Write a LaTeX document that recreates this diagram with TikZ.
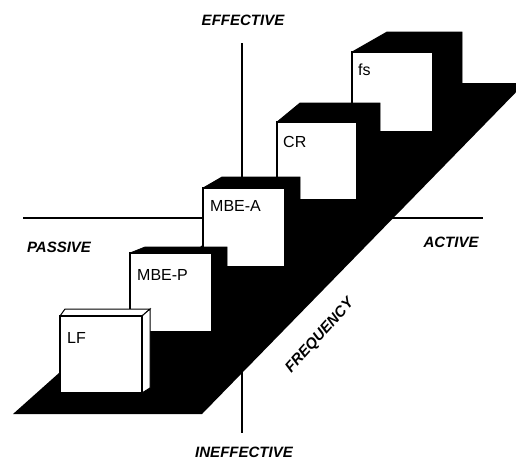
\documentclass[tikz,border=0pt]{standalone}
\usepackage{fontspec}
\setmainfont{Liberation Sans}
\begin{document}
\begin{tikzpicture}[x=1pt,y=-1pt,line join=miter,
  axisline/.style={line width=1.3pt},
  axlabel/.style={font=\fontsize{15}{15}\selectfont\bfseries\itshape,inner sep=0pt},
  boxlabel/.style={font=\fontsize{16}{16}\selectfont,anchor=base west,inner sep=0pt},
  frontface/.style={fill=white,draw=black,line width=1.4pt},
  depthface/.style={fill=black,draw=black,line width=0.8pt},
  thinface/.style={fill=white,draw=black,line width=1pt}]
\useasboundingbox (0,0) rectangle (516,464);
\clip (0,0) rectangle (516,464);
% axes
\coordinate (vtop) at (242,43);
\coordinate (vbot) at (242,433);
\coordinate (hleft) at (23,218);
\coordinate (hright) at (483,218);
\draw[axisline] (vtop) -- (vbot);
\draw[axisline] (hleft) -- (hright);
% floor
\fill[black] (13,414) -- (202,414) -- (525,83) -- (384,83) -- cycle;
% fs box
\fill[depthface] (352,52) -- (387,32) -- (462,32) -- (462,120) -- (433,132) -- cycle;
\draw[frontface] (352,52) rectangle (433,132);
% CR box
\fill[depthface] (277,122) -- (300,103) -- (380,103) -- (380,190) -- (357,200) -- cycle;
\draw[frontface] (277,122) rectangle (357,200);
% MBE-A box
\fill[depthface] (203,188) -- (222,177) -- (300,177) -- (300,258) -- (285,267) -- cycle;
\draw[frontface] (203,188) rectangle (285,267);
% MBE-P box
\fill[depthface] (130,253) -- (145,247) -- (227,247) -- (227,325) -- (212,332) -- cycle;
\draw[frontface] (130,253) rectangle (212,332);
% LF box
\draw[thinface] (60,316) -- (65,309) -- (150,309) -- (142,316) -- cycle;
\draw[thinface] (142,316) -- (150,309) -- (150,388) -- (142,393) -- cycle;
\draw[frontface] (60,316) rectangle (142,393);
% box labels
\node[boxlabel] (lf) at (67,343) {LF};
\node[boxlabel] (mbep) at (137,280) {MBE-P};
\node[boxlabel] (mbea) at (210,211) {MBE-A};
\node[boxlabel] (cr) at (283,147) {CR};
\node[boxlabel] (fs) at (358,75) {fs};
% axis labels
\node[axlabel] (eff) at (243,20) {EFFECTIVE};
\node[axlabel] (ineff) at (244,452) {INEFFECTIVE};
\node[axlabel] (pass) at (59,247) {PASSIVE};
\node[axlabel] (act) at (451,242) {ACTIVE};
\node[axlabel,rotate=48] (freq) at (320,336) {FREQUENCY};
\end{tikzpicture}
\end{document}
